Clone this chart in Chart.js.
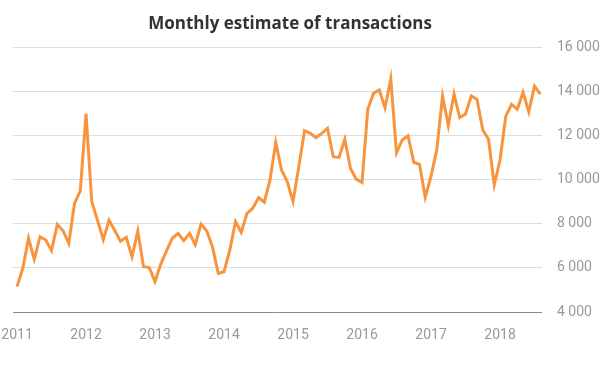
<!DOCTYPE html>
<html>
<head>
<meta charset="utf-8">
<script src="https://cdn.jsdelivr.net/npm/chart.js@4"></script>
<style>
  html, body { margin: 0; padding: 0; background: #ffffff; }
  #wrap { position: relative; width: 605px; height: 378px; }
  canvas { display: block; }
</style>
</head>
<body>
<div id="wrap"><canvas id="c" width="605" height="378"></canvas></div>
<script>
const chartTitle = 'Monthly estimate of transactions';
const yearLabels = ['2011', '2012', '2013', '2014', '2015', '2016', '2017', '2018'];
const yAxisTicks = [4000, 6000, 8000, 10000, 12000, 14000, 16000];
// Monthly values, Jan 2011 .. Aug 2018
const transactions2011 = [5150, 5980, 7340, 6380, 7410, 7260, 6780, 7970, 7680, 7110, 8920, 9490];
const transactions2012 = [12970, 9000, 8150, 7280, 8150, 7690, 7200, 7380, 6500, 7670, 6050, 6010];
const transactions2013 = [5370, 6170, 6770, 7340, 7560, 7230, 7560, 7040, 7980, 7670, 6940, 5750];
const transactions2014 = [5820, 6800, 8090, 7610, 8470, 8700, 9180, 8970, 9980, 11680, 10430, 9900];
const transactions2015 = [9000, 10580, 12210, 12090, 11900, 12090, 12320, 11030, 11000, 11820, 10500, 10010];
const transactions2016 = [9860, 13180, 13900, 14050, 13250, 14550, 11210, 11790, 11980, 10780, 10690, 9190];
const transactions2017 = [10150, 11340, 13780, 12440, 13870, 12800, 12970, 13780, 13630, 12240, 11820, 9750];
const transactions2018 = [10880, 12870, 13400, 13180, 13950, 13070, 14230, 13860];

const monthly = [].concat(transactions2011, transactions2012, transactions2013, transactions2014,
  transactions2015, transactions2016, transactions2017, transactions2018);
const points = monthly.map((v, i) => ({ x: i, y: v }));

function fmt(v) {
  return String(v).replace(/\B(?=(\d{3})+(?!\d))/g, ' ');
}

const titlePlugin = {
  id: 'customTitle',
  afterDraw(chart) {
    const ctx = chart.ctx;
    ctx.save();
    ctx.font = 'bold 17px "Open Sans", sans-serif';
    ctx.fillStyle = '#333333';
    ctx.textAlign = 'center';
    ctx.textBaseline = 'middle';
    ctx.fillText(chartTitle, 290, 24);
    ctx.restore();
  }
};

new Chart(document.getElementById('c'), {
  type: 'line',
  data: {
    datasets: [{
      data: points,
      borderColor: '#f7943d',
      borderWidth: 3,
      pointRadius: 0,
      tension: 0,
      fill: false
    }]
  },
  options: {
    responsive: false,
    animation: false,
    layout: { padding: { top: 47, left: 13, right: 4, bottom: 0 } },
    plugins: {
      legend: { display: false },
      title: { display: false },
      tooltip: { enabled: false }
    },
    scales: {
      x: {
        type: 'linear',
        min: -0.7,
        max: 91.3,
        grid: { display: false, drawTicks: false },
        border: { display: false },
        afterBuildTicks(axis) {
          axis.ticks = yearLabels.map((_, i) => ({ value: i * 12 }));
        },
        afterFit(axis) {
          axis.paddingLeft = 0;
          axis.paddingRight = 0;
          axis.height = 66;
        },
        ticks: {
          autoSkip: false,
          maxRotation: 0,
          padding: 15,
          color: '#999999',
          font: { family: 'Roboto', size: 14 },
          callback: (v) => yearLabels[Math.round(v / 12)]
        }
      },
      y: {
        position: 'right',
        min: 4000,
        max: 16000,
        afterBuildTicks(axis) {
          axis.ticks = yAxisTicks.map(v => ({ value: v }));
        },
        afterFit(axis) {
          axis.width = 59;
          axis.paddingTop = 0;
          axis.paddingBottom = 0;
        },
        grid: {
          drawTicks: false,
          color: (c) => (c.tick && c.tick.value === 4000) ? '#888888' : '#dddddd',
          lineWidth: 1
        },
        border: { display: false },
        ticks: {
          padding: 15,
          color: '#999999',
          font: { family: 'Roboto', size: 14 },
          callback: (v) => fmt(v)
        }
      }
    }
  },
  plugins: [titlePlugin]
});
</script>
</body>
</html>
